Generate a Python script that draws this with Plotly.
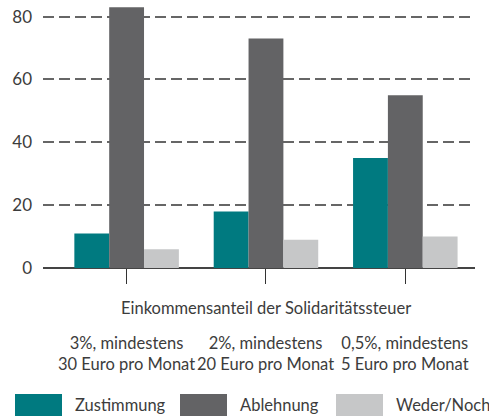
import plotly.graph_objects as go

categories = ["3%, mindestens<br>30 Euro pro Monat", "2%, mindestens<br>20 Euro pro Monat", "0,5%, mindestens<br>5 Euro pro Monat"]
series_names = ["Zustimmung", "Ablehnung", "Weder/Noch"]
zustimmung = [11, 18, 35]
ablehnung = [83, 73, 55]
weder = [6, 9, 10]
colors = ["#007a80", "#636365", "#c6c7c8"]
y_ticks = [0, 20, 40, 60, 80]
x_title = "Einkommensanteil der Solidaritätssteuer"

FONT = "Lato"
TXT = "#3c3c3c"
FS = 16.5
x_idx = [0, 1, 2]

fig = go.Figure()
for name, vals, col in zip(series_names, [zustimmung, ablehnung, weder], colors):
    fig.add_trace(go.Bar(x=x_idx, y=vals, name=name, marker=dict(color=col, line=dict(width=0)),
                         showlegend=False))

fig.update_layout(
    width=489, height=418,
    margin=dict(l=43, r=14, t=4, b=150),
    paper_bgcolor="white", plot_bgcolor="white",
    barmode="group", bargap=0.25, bargroupgap=0,
    font=dict(family=FONT, size=FS, color=TXT),
    xaxis=dict(range=[-0.6, 2.5], tickvals=x_idx, showticklabels=False,
               ticks="outside", ticklen=15, tickcolor="#333", tickwidth=1,
               showgrid=False, zeroline=False, showline=False),
    yaxis=dict(range=[0, 84], tickvals=y_ticks, showgrid=True, gridcolor="#666666",
               gridwidth=1.6, griddash="11px,5px", zeroline=True, zerolinecolor="#444444",
               zerolinewidth=1.5, ticks="", tickfont=dict(size=17, color=TXT),
               ticklabelstandoff=10, showline=False),
)

annotations = []
annotations.append(dict(text=x_title, xref="paper", yref="paper", x=(266 - 43) / 432, y=0,
                        yshift=-(308 - 268), showarrow=False, xanchor="center", yanchor="middle",
                        font=dict(size=FS, color=TXT)))
for i, c in zip(x_idx, categories):
    annotations.append(dict(text=c, xref="x", yref="paper", x=i, y=0, yshift=-(353 - 268),
                            showarrow=False, xanchor="center", yanchor="middle",
                            font=dict(size=FS, color=TXT)))

legend_x = [15, 180, 336]
shapes = []
for lx, name, col in zip(legend_x, series_names, colors):
    shapes.append(dict(type="rect", xref="paper", yref="paper", xsizemode="pixel", ysizemode="pixel",
                       xanchor=0, yanchor=0, x0=lx - 43, x1=lx + 47 - 43, y0=-(416 - 268), y1=-(394 - 268),
                       fillcolor=col, line=dict(width=0)))
    annotations.append(dict(text=name, xref="paper", yref="paper", x=0, y=0,
                            xshift=lx + 58 - 43, yshift=-(405 - 268), showarrow=False,
                            xanchor="left", yanchor="middle", font=dict(size=FS, color=TXT)))

fig.update_layout(annotations=annotations, shapes=shapes)
fig.write_html("out.html", config={"displayModeBar": False},
               post_script="document.body.style.margin='0';")
